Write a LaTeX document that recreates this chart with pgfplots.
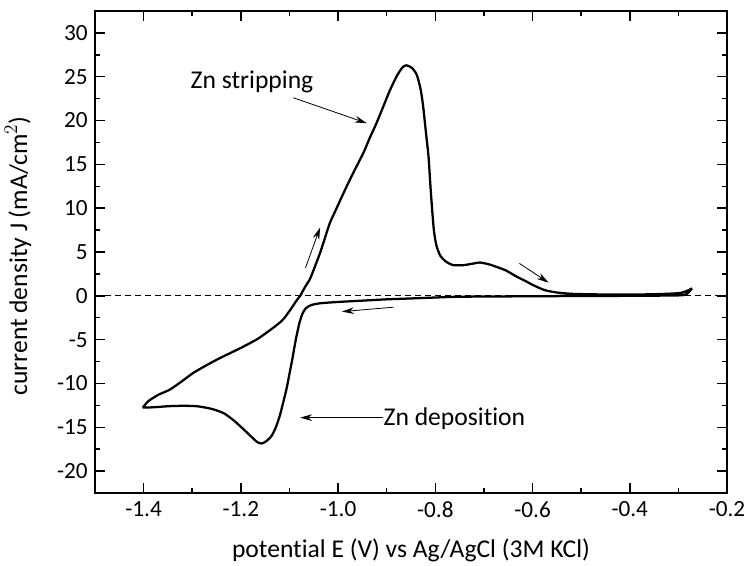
\documentclass[border=0pt]{standalone}
\usepackage{fontspec}
\setmainfont{Carlito}[Ligatures=NoCommon]
\usepackage{pgfplots}
\pgfplotsset{compat=1.18}
\usetikzlibrary{arrows.meta}

\begin{document}
\begin{tikzpicture}
\begin{axis}[
  scale only axis,
  width=474pt, height=361.5pt,
  xmin=-1.5, xmax=-0.2,
  ymin=-22.5, ymax=32.5,
  xtick={-1.4,-1.2,-1.0,-0.8,-0.6,-0.4,-0.2},
  minor xtick={-1.3,-1.1,-0.9,-0.7,-0.5,-0.3},
  ytick={-20,-15,...,30},
  minor ytick={-17.5,-12.5,...,27.5},
  tick align=inside,
  major tick length=7.5pt,
  minor tick length=3.75pt,
  every tick/.style={black, line width=1.1pt},
  axis line style={line width=1.5pt},
  /pgf/number format/assume math mode=true,
  x tick label style={/pgf/number format/fixed, /pgf/number format/fixed zerofill, /pgf/number format/precision=1, yshift=-3pt},
  ticklabel style={font=\fontsize{17.4}{20}\selectfont},
  y tick label style={xshift=-2pt},
  xlabel={potential E (V) vs Ag/AgCl (3M KCl)},
  label style={font=\fontsize{19.2}{22}\selectfont},
  xlabel style={at={(axis description cs:0.5,0)}, anchor=center, yshift=-43pt},
]
% zero-current reference
\addplot[black, line width=0.8pt, dash pattern=on 4.5pt off 3pt] coordinates {(-1.5,0) (-0.2,0)};

% cyclic voltammogram
\addplot[black, line width=1.7pt, smooth, tension=0.4] coordinates {
(-0.272,0.85) (-0.283,0.2) (-0.30,0.05) (-0.40,0.0) (-0.50,-0.02) (-0.60,-0.05)
(-0.70,-0.08) (-0.763,-0.12) (-0.85,-0.3) (-0.90,-0.4) (-0.95,-0.55) (-1.00,-0.7)
(-1.037,-0.85) (-1.055,-1.05) (-1.066,-1.4) (-1.073,-2.0) (-1.079,-3.0) (-1.084,-4.2)
(-1.089,-5.6) (-1.094,-7.2) (-1.100,-8.9) (-1.106,-10.6) (-1.113,-12.2) (-1.120,-13.7)
(-1.128,-15.0) (-1.137,-16.0) (-1.148,-16.6) (-1.157,-16.85) (-1.166,-16.7) (-1.178,-16.1)
(-1.195,-15.2) (-1.215,-14.2) (-1.235,-13.4) (-1.26,-12.9) (-1.29,-12.6) (-1.32,-12.55)
(-1.35,-12.6) (-1.375,-12.7) (-1.40,-12.75) (-1.398,-12.5) (-1.39,-12.0) (-1.37,-11.3)
(-1.346,-10.7) (-1.32,-9.7) (-1.298,-8.8) (-1.27,-7.9) (-1.243,-7.1) (-1.215,-6.35)
(-1.188,-5.6) (-1.165,-4.9) (-1.147,-4.2) (-1.13,-3.5) (-1.113,-2.7) (-1.097,-1.5)
(-1.085,-0.5) (-1.078,0.0) (-1.068,1.0) (-1.058,1.9) (-1.05,3.0) (-1.037,4.9)
(-1.027,6.6) (-1.017,8.3) (-1.003,10.0) (-0.989,11.7) (-0.97,13.9) (-0.948,16.3)
(-0.935,18.0) (-0.921,19.7) (-0.907,21.6) (-0.893,23.5) (-0.878,25.2) (-0.867,26.1)
(-0.859,26.3) (-0.848,26.0) (-0.838,25.2) (-0.830,23.5) (-0.825,21.6) (-0.819,18.5)
(-0.814,15.9) (-0.810,12.5) (-0.807,10.2) (-0.803,7.5) (-0.798,5.8) (-0.790,4.6)
(-0.778,3.9) (-0.763,3.5) (-0.742,3.5) (-0.72,3.7) (-0.708,3.8) (-0.69,3.6)
(-0.674,3.3) (-0.655,2.9) (-0.633,2.2) (-0.615,1.7) (-0.598,1.2) (-0.575,0.65)
(-0.55,0.38) (-0.516,0.22) (-0.45,0.15) (-0.40,0.15) (-0.35,0.18) (-0.30,0.3)
(-0.285,0.5) (-0.272,0.85)
};

% annotations
\node[font=\fontsize{19.2}{22}\selectfont] at (axis cs:-1.177,24.4) {Zn stripping};
\draw[line width=0.6pt, -{Stealth[length=9pt, width=5pt]}] (axis cs:-1.092,22.6) -- (axis cs:-0.941,19.7);
\node[font=\fontsize{19.2}{22}\selectfont, anchor=west, inner sep=0pt] at (axis cs:-0.907,-14.0) {Zn deposition};
\draw[line width=0.6pt, -{Stealth[length=9pt, width=5pt]}] (axis cs:-0.907,-13.9) -- (axis cs:-1.078,-13.9);
\draw[line width=0.6pt, -{Stealth[length=9pt, width=5pt]}] (axis cs:-1.067,3.2) -- (axis cs:-1.037,7.8);
\draw[line width=0.6pt, -{Stealth[length=9pt, width=5pt]}] (axis cs:-0.886,-1.3) -- (axis cs:-0.992,-1.8);
\draw[line width=0.6pt, -{Stealth[length=9pt, width=5pt]}] (axis cs:-0.627,3.7) -- (axis cs:-0.567,1.5);
\end{axis}
% vertical axis title
\node[rotate=90, font=\fontsize{19.2}{22}\selectfont] at (-57.75pt,177.75pt) {current density J (mA/cm$^{2}$)};
\pgfresetboundingbox
\useasboundingbox (-71.25pt,-54pt) rectangle (487.5pt,369.75pt);
\end{tikzpicture}
\end{document}
